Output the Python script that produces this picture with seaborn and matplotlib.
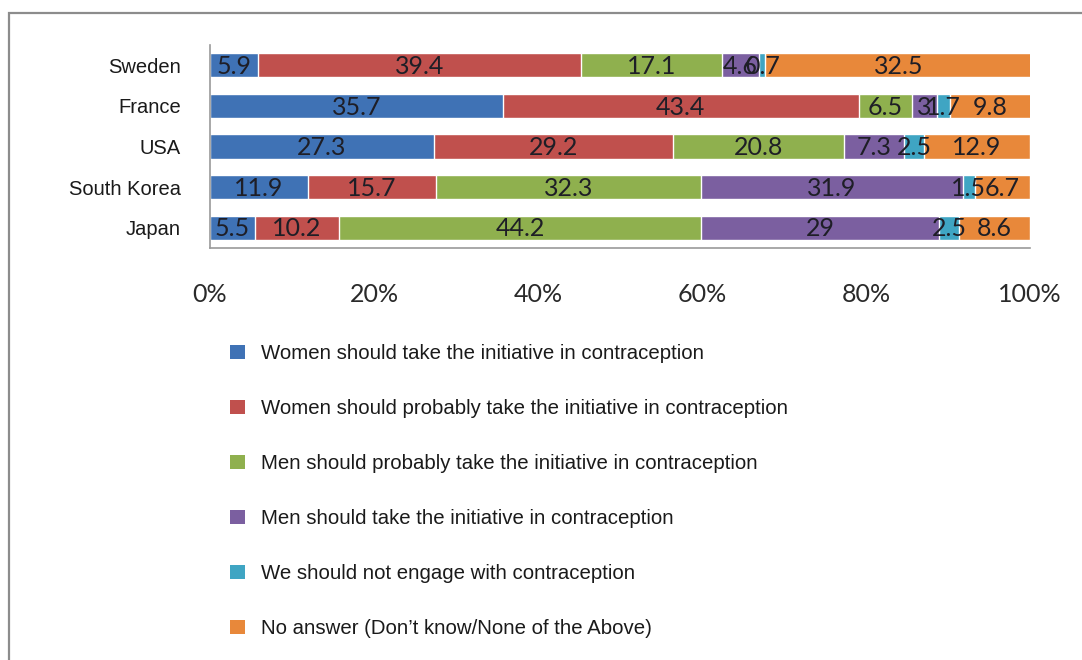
import numpy as np
import pandas as pd
import matplotlib
matplotlib.use("Agg")
import matplotlib.pyplot as plt
from matplotlib.patches import Patch, Rectangle
import seaborn as sns

# Survey answers per country (percent of respondents)
countries = ["Sweden", "France", "USA", "South Korea", "Japan"]
answers = [
    "Women should take the initiative in contraception",
    "Women should probably take the initiative in contraception",
    "Men should probably take the initiative in contraception",
    "Men should take the initiative in contraception",
    "We should not engage with contraception",
    "No answer (Don\u2019t know/None of the Above)",
]
women_take = [5.9, 35.7, 27.3, 11.9, 5.5]
women_probably = [39.4, 43.4, 29.2, 15.7, 10.2]
men_probably = [17.1, 6.5, 20.8, 32.3, 44.2]
men_take = [4.6, 3, 7.3, 31.9, 29]
no_engage = [0.7, 1.7, 2.5, 1.5, 2.5]
no_answer = [32.5, 9.8, 12.9, 6.7, 8.6]

series = [women_take, women_probably, men_probably, men_take, no_engage, no_answer]
colors = ["#3f72b5", "#c0504d", "#8fb04e", "#7b5fa0", "#3fa5c3", "#e8883a"]

sns.set_theme(style="white")
plt.rcParams["font.family"] = ["Liberation Sans", "DejaVu Sans"]

fig = plt.figure(figsize=(10.82, 6.6), dpi=100)
ax = fig.add_axes([210 / 1082, 1 - 248 / 660, 820 / 1082, 203 / 660])

# Stacked bars: draw running totals from the widest down so each segment shows
values = pd.DataFrame(dict(zip(answers, series)), index=countries)
cum = values.cumsum(axis=1)
for ans, col in reversed(list(zip(answers, colors))):
    df = pd.DataFrame({"country": countries, "total": cum[ans].values})
    sns.barplot(data=df, y="country", x="total", orient="h", color=col,
                width=0.6, saturation=1, ax=ax, order=countries)

# Value labels centred on each segment
for ans in answers:
    left = cum[ans] - values[ans]
    for i, c in enumerate(countries):
        v = values.loc[c, ans]
        ax.text(left[c] + v / 2, i + 0.03, f"{v:g}", ha="center", va="center",
                fontsize=18, family=["Lato", "DejaVu Sans"], color="#1e1e26")

ax.set_xlim(0, 100)
ax.set_ylim(4.5, -0.5)
ax.set_xticks([0, 20, 40, 60, 80, 100])
ax.set_xticklabels([f"{t}%" for t in [0, 20, 40, 60, 80, 100]],
                   fontsize=18, family=["Lato", "DejaVu Sans"], color="#2a2a2a")
ax.tick_params(axis="x", length=0, pad=25)
ax.tick_params(axis="y", length=0, pad=21, labelsize=14.5, labelcolor="#1a1a1a")
ax.set_xlabel("")
ax.set_ylabel("")
for s in ["top", "right"]:
    ax.spines[s].set_visible(False)
for s in ["left", "bottom"]:
    ax.spines[s].set_color("#9a9a9a")
    ax.spines[s].set_linewidth(1.2)

handles = [Patch(facecolor=c, edgecolor="none") for c in colors]
fig.legend(handles, answers, loc="upper left",
           bbox_to_anchor=(220 / 1082, 1 - 334 / 660), frameon=False,
           fontsize=14.7, handlelength=0.7, handleheight=0.7,
           handletextpad=0.8, labelspacing=1.76, borderpad=0,
           labelcolor="#1a1a1a")

# Outer chart frame
fig.patches.append(Rectangle((9 / 1082, -0.1), 1.2, 1 - 13 / 660 + 0.1,
                             transform=fig.transFigure, fill=False,
                             edgecolor="#8c8c8c", linewidth=1.6))

fig.savefig("out.png", dpi=100)
